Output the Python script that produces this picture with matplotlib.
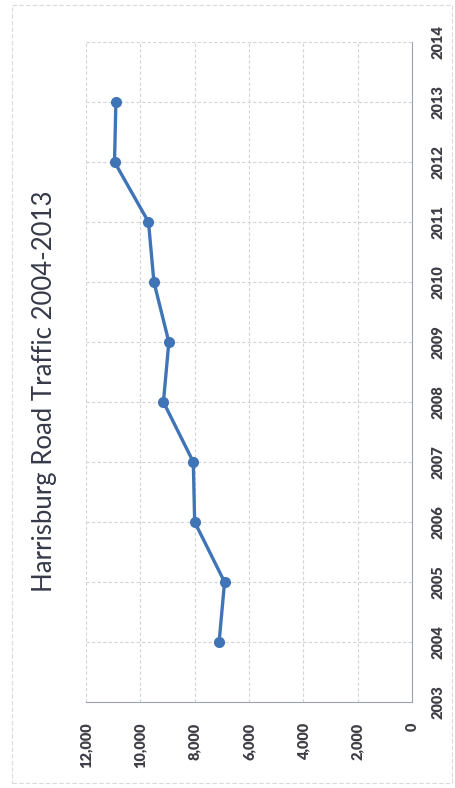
import matplotlib.pyplot as plt
from matplotlib.ticker import FuncFormatter

# data: yearly traffic counts (chart is shown rotated 90 degrees)
years = [2004, 2005, 2006, 2007, 2008, 2009, 2010, 2011, 2012, 2013]
traffic = [7100, 6900, 8000, 8050, 9150, 8950, 9500, 9700, 10950, 10900]
value_ticks = [0, 2000, 4000, 6000, 8000, 10000, 12000]
year_ticks = list(range(2003, 2015))
title = "Harrisburg Road Traffic 2004-2013"

plt.rcParams['font.family'] = ['Lato', 'DejaVu Sans']

fig = plt.figure(figsize=(4.55, 7.88), dpi=100)
ax = fig.add_axes([86 / 455, 1 - 702 / 788, (412 - 86) / 455, (702 - 42) / 788])

# values run horizontally (12000 left, 0 right), years run vertically
ax.plot(traffic, years, color='#3f74b6', lw=2.4, marker='o', ms=7,
        markerfacecolor='#3f74b6', markeredgecolor='#3f74b6', zorder=3)

ax.set_xlim(12000, 0)
ax.set_ylim(2003, 2014)
ax.set_xticks(value_ticks)
ax.set_yticks(year_ticks)
ax.xaxis.set_major_formatter(FuncFormatter(lambda v, p: f"{int(v):,}"))

ax.yaxis.tick_right()
ax.tick_params(axis='x', length=0, pad=15, labelsize=10.5, labelcolor='#3e3e46',
               labelrotation=90)
ax.tick_params(axis='y', length=0, pad=14, labelsize=10.5, labelcolor='#3e3e46',
               labelrotation=90)
for lab in ax.get_xticklabels() + ax.get_yticklabels():
    lab.set_fontweight('heavy')
for lab in ax.get_yticklabels():
    lab.set_verticalalignment('center')

ax.grid(True, color='#d2d4da', lw=0.8, ls=(0, (3, 2)))
ax.set_axisbelow(True)
for side in ['top', 'left']:
    ax.spines[side].set_visible(False)
ax.spines['right'].set_color('#9ea2ac')
ax.spines['bottom'].set_color('#9ea2ac')

fig.text(45 / 455, 1 - 391 / 788, title, rotation=90, ha='center', va='center',
         fontsize=18.5, color='#363a48')

# faint outer chart border
fig.add_artist(plt.Rectangle((12 / 455, 5 / 788), 440 / 455, 778 / 788,
                             transform=fig.transFigure, fill=False,
                             ec='#dadada', lw=0.8, ls=(0, (4, 2))))

fig.savefig('out.png', dpi=100, facecolor='white')
